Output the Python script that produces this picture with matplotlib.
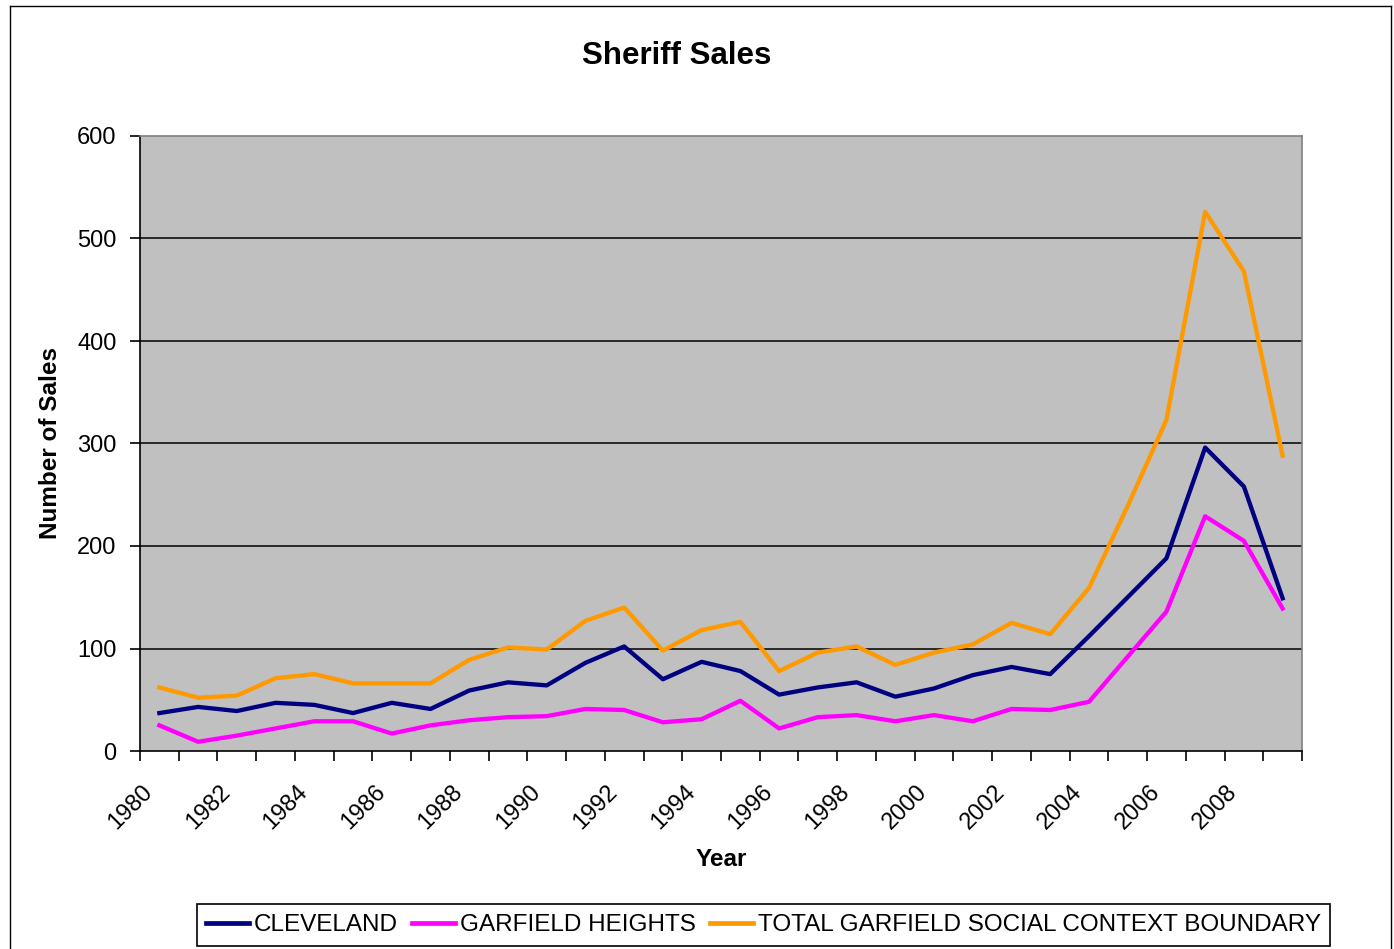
import numpy as np
import matplotlib
matplotlib.use("Agg")
import matplotlib.pyplot as plt
from matplotlib.lines import Line2D
import matplotlib.transforms as mtransforms

# Annual sheriff sales counts
years = list(range(1980, 2010))
cleveland = [37, 43, 39, 47, 45, 37, 47, 41, 59, 67,
             64, 86, 102, 70, 87, 78, 55, 62, 67, 53,
             61, 74, 82, 75, 112, 150, 188, 296, 258, 149]
garfield_heights = [25, 9, 15, 22, 29, 29, 17, 25, 30, 33,
                    34, 41, 40, 28, 31, 49, 22, 33, 35, 29,
                    35, 29, 41, 40, 48, 92, 136, 229, 205, 139]
total_boundary = [62, 52, 54, 71, 75, 66, 66, 66, 89, 101,
                  99, 127, 140, 98, 118, 126, 78, 96, 102, 84,
                  96, 104, 125, 114, 159, 239, 323, 526, 468, 288]
series_names = ["CLEVELAND", "GARFIELD HEIGHTS",
                "TOTAL GARFIELD SOCIAL CONTEXT BOUNDARY"]
y_ticks = [0, 100, 200, 300, 400, 500, 600]
x_label_years = years[::2]

plt.rcParams['font.family'] = ['Liberation Sans', 'DejaVu Sans']

W, H = 1394, 949
fig = plt.figure(figsize=(W / 100, H / 100), dpi=100)
fig.patch.set_facecolor('white')


def fx(px):
    return px / W


def fy(py):
    return 1 - py / H


ax = fig.add_axes([fx(140), fy(751), fx(1302) - fx(140), fy(136) - fy(751)])
ax.set_facecolor('#C0C0C0')

idx = np.arange(len(years))
colors = ['#000080', '#FF00FF', '#FF9900']
handles = []
for vals, name, c in zip([cleveland, garfield_heights, total_boundary],
                         series_names, colors):
    ln, = ax.plot(idx, vals, color=c, lw=3.1, label=name, zorder=3)
    handles.append(ln)

ax.set_xlim(-0.5, len(years) - 0.5)
ax.set_ylim(y_ticks[0], y_ticks[-1])

# horizontal gridlines
ax.hlines(y_ticks[1:-1], -0.5, len(years) - 0.5, colors='black', lw=1.1, zorder=1)

# spines
for side in ('left', 'bottom'):
    ax.spines[side].set_color('black')
    ax.spines[side].set_linewidth(1.2)
for side in ('top', 'right'):
    ax.spines[side].set_color('#808080')
    ax.spines[side].set_linewidth(1.2)

# y axis
ax.set_yticks(y_ticks)
ax.set_yticklabels([str(v) for v in y_ticks])
ax.tick_params(axis='y', direction='out', length=7, width=1.2,
               labelsize=17, pad=10, colors='black')

# x axis: tick marks between categories, labels every other year
ax.set_xticks(np.arange(-0.5, len(years), 1.0))
ax.set_xticklabels([])
ax.tick_params(axis='x', which='major', direction='out', length=7, width=1.2)
ax.set_xticks(idx[::2], minor=True)
ax.set_xticklabels([str(y) for y in x_label_years], minor=True)
ax.tick_params(axis='x', which='minor', length=0, pad=27, labelsize=17)
shift = mtransforms.ScaledTranslation(-10 / 100, 0, fig.dpi_scale_trans)
for lab in ax.get_xticklabels(minor=True):
    lab.set_rotation(45)
    lab.set_ha('right')
    lab.set_va('center')
    lab.set_rotation_mode('anchor')
    lab.set_transform(lab.get_transform() + shift)

# titles
fig.text(fx(677), fy(56), 'Sheriff Sales', ha='center', va='center',
         fontsize=22.5, fontweight='bold')
fig.text(fx(51), fy(443), 'Number of Sales', ha='center', va='center',
         rotation=90, fontsize=17.5, fontweight='bold')
fig.text(fx(721), fy(859), 'Year', ha='center', va='center',
         fontsize=17.5, fontweight='bold')

# legend
leg = fig.legend(handles=handles, loc='center',
                 bbox_to_anchor=(fx(763.5), fy(925)), ncol=3,
                 frameon=True, fancybox=False, edgecolor='black',
                 facecolor='white', framealpha=1, fontsize=17.5,
                 handlelength=1.75, handletextpad=0.2, columnspacing=0.6,
                 borderpad=0.4, borderaxespad=0)
leg.get_frame().set_linewidth(1.2)
for lh in leg.get_lines():
    lh.set_linewidth(3.4)

# chart-area border
border_kw = dict(transform=fig.transFigure, color='black', lw=1.0)
fig.add_artist(Line2D([fx(10), fx(10)], [fy(6), 0], **border_kw))
fig.add_artist(Line2D([fx(10), fx(1391)], [fy(6), fy(6)], **border_kw))
fig.add_artist(Line2D([fx(1391), fx(1391)], [fy(6), 0], **border_kw))

fig.savefig('out.png', dpi=100)
